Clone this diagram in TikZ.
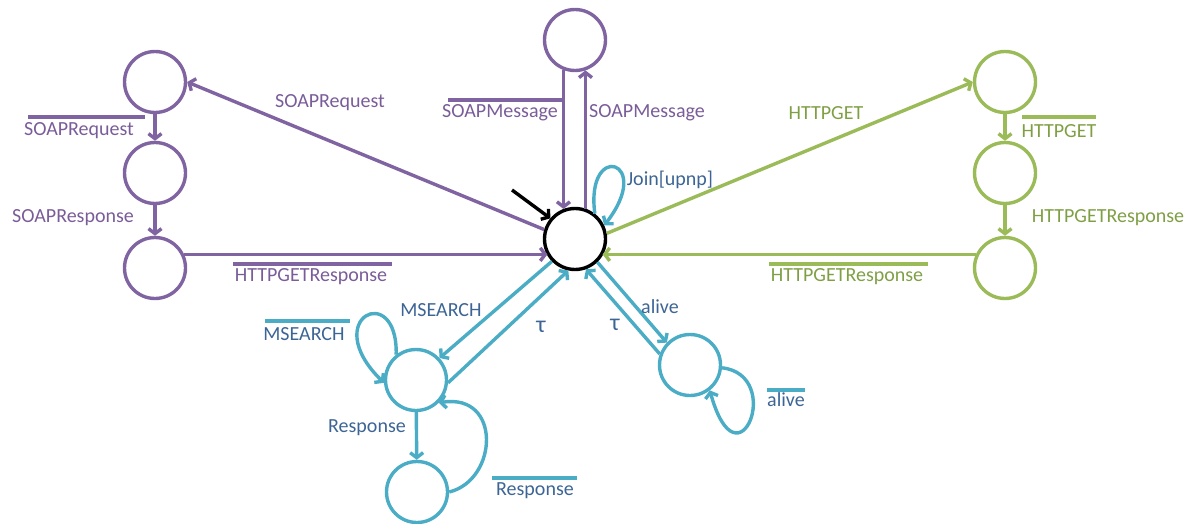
\documentclass[tikz,border=0pt]{standalone}
\usepackage{fontspec}
\setmainfont{Carlito}
\usetikzlibrary{arrows.meta}
\definecolor{pur}{HTML}{8064A2}
\definecolor{purtxt}{HTML}{7A5C99}
\definecolor{grn}{HTML}{9BBB59}
\definecolor{grntxt}{HTML}{7F9F45}
\definecolor{cyn}{HTML}{4BACC6}
\definecolor{blu}{HTML}{3C6595}
\begin{document}
\begin{tikzpicture}[x=1pt,y=-1pt,
  st/.style={circle, draw, line width=3.4pt, minimum size=61pt, inner sep=0pt},
  arr/.style={line width=3.4pt, -{Straight Barb[length=5pt,width=13pt]}},
  lbl/.style={font=\fontsize{20}{23}\selectfont, inner sep=0pt},
  tau/.style={font=\fontsize{24}{26}\selectfont, inner sep=0pt},
  ol/.style={line width=3.4pt}]
\useasboundingbox (0,0) rectangle (1193,524);
% states
\node[st, draw=black] (C) at (575,239) {};
\node[st, draw=pur] (T) at (575,40) {};
\node[st, draw=pur] (L1) at (155,82) {};
\node[st, draw=pur] (L2) at (155,173) {};
\node[st, draw=pur] (L3) at (155,268) {};
\node[st, draw=grn] (R1) at (1005,82) {};
\node[st, draw=grn] (R2) at (1005,173) {};
\node[st, draw=grn] (R3) at (1005,268) {};
\node[st, draw=cyn] (B1) at (416,380) {};
\node[st, draw=cyn] (B2) at (417,492) {};
\node[st, draw=cyn] (B3) at (690,365) {};
% initial arrow
\coordinate (init) at (512,190);
\draw[arr, black] (init) -- (C.140);
% purple
\draw[arr, pur] (C.163) -- (L1.east);
\draw[arr, pur] (L1) -- (L2);
\draw[arr, pur] (L2) -- (L3);
\draw[arr, pur] (L3.25) -- (L3.25 -| C.211);
\draw[arr, pur] (T.249) -- (C.111);
\draw[arr, pur] (C.71) -- (T.289);
\node[lbl, text=purtxt] (lsr) at (330,103) {SOAPRequest};
\node[lbl, text=purtxt] (lsrb) at (79,131) {SOAPRequest};
\draw[ol, pur] (28,117) -- (145,117);
\node[lbl, text=purtxt] (lsresp) at (73,218) {SOAPResponse};
\node[lbl, text=purtxt] (lhgr) at (311,277) {HTTPGETResponse};
\draw[ol, pur] (233,264) -- (392,264);
\node[lbl, text=purtxt] (lsm1) at (500,113) {SOAPMessage};
\draw[ol, pur] (448,100) -- (563,100);
\node[lbl, text=purtxt] (lsm2) at (647,113) {SOAPMessage};
% green
\draw[arr, grn] (C.10) -- (R1.180);
\draw[arr, grn] (R1) -- (R2);
\draw[arr, grn] (R2) -- (R3);
\draw[arr, grn] (R3.155) -- (R3.155 -| C.-31);
\node[lbl, text=grntxt] (lhg) at (826,113) {HTTPGET};
\node[lbl, text=grntxt] (lhgb) at (1059,131) {HTTPGET};
\draw[ol, grn] (1022,117) -- (1096,117);
\node[lbl, text=grntxt] (lhgr2) at (1108,218) {HTTPGETResponse};
\node[lbl, text=grntxt] (lhgr3) at (847,277) {HTTPGETResponse};
\draw[ol, grn] (769,264) -- (928,264);
% cyan
\draw[arr, cyn] (C.52) .. controls (585,140) and (655,160) .. (C.25);
\node[lbl, text=blu] (ljoin) at (670,180) {Join[upnp]};
\draw[arr, cyn] (C.224) -- (B1.43);
\draw[arr, cyn] (B1.-5) -- (C.258);
\node[lbl, text=blu] (lms) at (441,310) {MSEARCH};
\node[tau, text=blu] (ltau1) at (541,327) {τ};
\draw[arr, cyn] (B1.128) .. controls (398,280) and (318,318) .. (B1.185);
\node[lbl, text=blu] (lmsb) at (304,334) {MSEARCH};
\draw[ol, cyn] (265,321) -- (350,321);
\draw[arr, cyn] (B1) -- (B2);
\node[lbl, text=blu] (lresp) at (367,428) {Response};
\draw[arr, cyn] (B2.0) .. controls (498,480) and (502,393) .. (B1.-45);
\node[lbl, text=blu] (lrespb) at (535,491) {Response};
\draw[ol, cyn] (492,478) -- (577,478);
\draw[arr, cyn] (C.314) -- (B3.136);
\draw[arr, cyn] (B3.160) -- (C.290);
\node[lbl, text=blu] (lalive) at (660,307) {alive};
\node[tau, text=blu] (ltau2) at (615,325) {τ};
\draw[arr, cyn] (B3.-5) .. controls (785,375) and (738,492) .. (B3.-52);
\node[lbl, text=blu] (laliveb) at (786,400) {alive};
\draw[ol, cyn] (767,390) -- (805,390);
\end{tikzpicture}
\end{document}
